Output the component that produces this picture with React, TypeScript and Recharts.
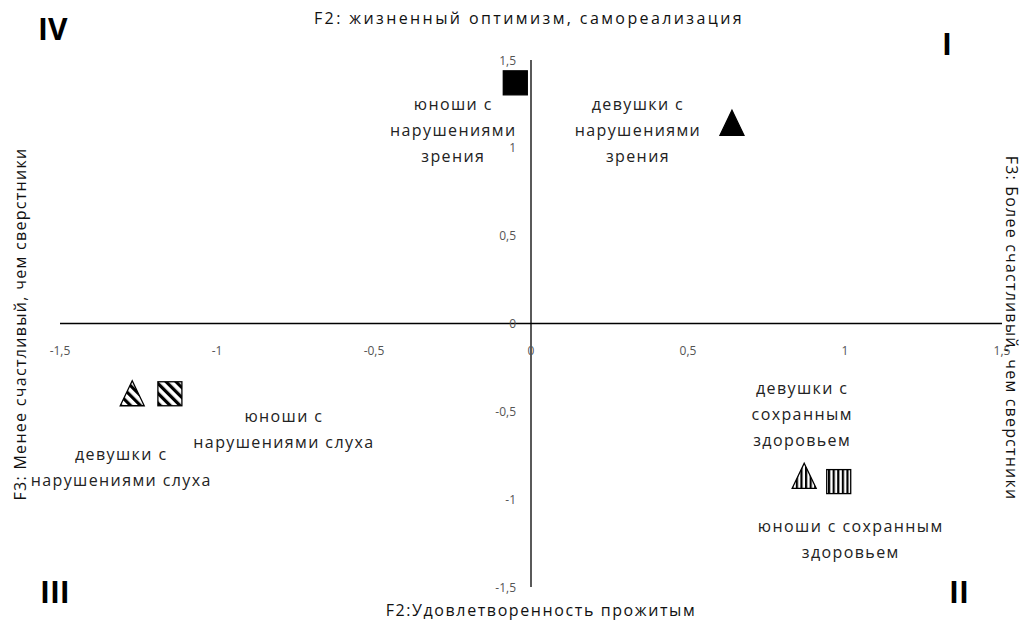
import React from "react";
import {
  ScatterChart,
  Scatter,
  XAxis,
  YAxis,
  ReferenceLine,
  Customized,
} from "recharts";

// groups, in the order they are drawn
const groupNames = [
  "юноши с нарушениями зрения",
  "девушки с нарушениями зрения",
  "девушки с нарушениями слуха",
  "юноши с нарушениями слуха",
  "девушки с сохранным здоровьем",
  "юноши с сохранным здоровьем",
];
const xValues = [-0.05, 0.64, -1.27, -1.15, 0.87, 0.98];
const yValues = [1.37, 1.14, -0.4, -0.4, -0.87, -0.9];
const labelLines = [
  ["юноши с", "нарушениями", "зрения"],
  ["девушки с", "нарушениями", "зрения"],
  ["девушки с", "нарушениями слуха"],
  ["юноши с", "нарушениями слуха"],
  ["девушки с", "сохранным", "здоровьем"],
  ["юноши с сохранным", "здоровьем"],
];

const tickValues = [-1.5, -1, -0.5, 0, 0.5, 1, 1.5];

const topTitle = "F2: жизненный оптимизм, самореализация";
const bottomTitle = "F2:Удовлетворенность прожитым";
const leftTitle = "F3: Менее счастливый, чем сверстники";
const rightTitle = "F3: Более счастливый, чем сверстники";
const quadrantNames = ["IV", "I", "III", "II"];

// marker look + label offset per group (pixels relative to the point)
const markerKinds = ["square", "triangle", "triDiag", "sqDiag", "triVert", "sqVert"];
const labelOffsets = [
  [-62, 21],
  [-94, -19],
  [-11, 60],
  [114, 22],
  [-2, -88],
  [12, 44],
];

const FONT = "'Open Sans', sans-serif";
const LINE_H = 26;

const points = groupNames.map((name, i) => ({
  name,
  x: xValues[i],
  y: yValues[i],
  kind: markerKinds[i],
  lines: labelLines[i],
  off: labelOffsets[i],
}));

const xTicks = tickValues.map((t) => ({ x: t, y: 0, label: String(t).replace(".", ",") }));
const yTicks = tickValues.map((t) => ({ x: 0, y: t, label: String(t).replace(".", ",") }));

const fmtFill = (kind: string) => {
  if (kind === "square" || kind === "triangle") return "#000";
  if (kind === "triDiag" || kind === "sqDiag") return "url(#diag)";
  return "url(#vert)";
};

const Marker = (props: any) => {
  const { cx, cy, payload } = props;
  const kind = payload.kind;
  const fill = fmtFill(kind);
  const tri = kind.startsWith("tri");
  const [dx, dy] = payload.off;
  return (
    <g>
      {tri ? (
        <polygon
          points={`${cx},${cy - 13} ${cx - 12},${cy + 12} ${cx + 12},${cy + 12}`}
          fill={fill}
          stroke="#000"
          strokeWidth={1.3}
        />
      ) : (
        <rect
          x={cx - 12}
          y={cy - 12}
          width={24}
          height={24}
          fill={fill}
          stroke="#000"
          strokeWidth={1.3}
        />
      )}
      <text
        x={cx + dx}
        y={cy + dy}
        textAnchor="middle"
        dominantBaseline="central"
        fontFamily={FONT}
        fontSize={16}
        letterSpacing={1.4}
        fill="#222"
      >
        {payload.lines.map((l: string, k: number) => (
          <tspan key={k} x={cx + dx} dy={k === 0 ? 0 : LINE_H}>
            {l}
          </tspan>
        ))}
      </text>
    </g>
  );
};

const XTickMark = (props: any) => (
  <text
    x={props.cx}
    y={props.cy + 27}
    textAnchor="middle"
    dominantBaseline="central"
    fontFamily={FONT}
    fontSize={12}
    fill="#555"
  >
    {props.payload.label}
  </text>
);

const YTickMark = (props: any) => (
  <text
    x={props.cx - 15}
    y={props.cy}
    textAnchor="end"
    dominantBaseline="central"
    fontFamily={FONT}
    fontSize={12}
    fill="#555"
  >
    {props.payload.label}
  </text>
);

const Extras = () => (
  <g fontFamily={FONT}>
    <defs>
      <pattern id="diag" width="7" height="7" patternUnits="userSpaceOnUse" patternTransform="rotate(-45)">
        <rect width="7" height="7" fill="#fff" />
        <rect width="3.2" height="7" fill="#000" />
      </pattern>
      <pattern id="vert" width="4.6" height="4.6" patternUnits="userSpaceOnUse">
        <rect width="4.6" height="4.6" fill="#fff" />
        <rect width="2.2" height="4.6" fill="#000" />
      </pattern>
    </defs>
    <text x={529} y={18} textAnchor="middle" dominantBaseline="central" fontSize={16} letterSpacing={2.4} fill="#111">
      {topTitle}
    </text>
    <text x={541} y={610} textAnchor="middle" dominantBaseline="central" fontSize={16} letterSpacing={1.6} fill="#111">
      {bottomTitle}
    </text>
    <text
      x={20}
      y={324}
      textAnchor="middle"
      dominantBaseline="central"
      fontSize={16}
      letterSpacing={1.3}
      fill="#111"
      transform="rotate(-90 20 324)"
    >
      {leftTitle}
    </text>
    <text
      x={1012}
      y={328}
      textAnchor="middle"
      dominantBaseline="central"
      fontSize={16}
      letterSpacing={1.2}
      fill="#111"
      transform="rotate(90 1012 328)"
    >
      {rightTitle}
    </text>
    <text x={38} y={40} fontSize={30} fontWeight="bold" fill="#000">{quadrantNames[0]}</text>
    <text x={942} y={55} fontSize={30} fontWeight="bold" fill="#000">{quadrantNames[1]}</text>
    <text x={40} y={603} fontSize={30} fontWeight="bold" fill="#000">{quadrantNames[2]}</text>
    <text x={949} y={603} fontSize={30} fontWeight="bold" fill="#000">{quadrantNames[3]}</text>
  </g>
);

export default function App() {
  return (
    <div style={{ position: "absolute", left: 0, top: 0, width: 1024, height: 620, background: "#fff" }}>
      <ScatterChart width={1024} height={620} margin={{ top: 60, right: 22, bottom: 33, left: 60 }}>
        <XAxis type="number" dataKey="x" domain={[-1.5, 1.5]} hide />
        <YAxis type="number" dataKey="y" domain={[-1.5, 1.5]} hide />
        <Customized component={Extras} />
        <ReferenceLine x={0} stroke="#000" strokeWidth={1.3} />
        <ReferenceLine y={0} stroke="#000" strokeWidth={1.3} />
        <Scatter data={xTicks} shape={<XTickMark />} isAnimationActive={false} />
        <Scatter data={yTicks} shape={<YTickMark />} isAnimationActive={false} />
        <Scatter data={points} shape={<Marker />} isAnimationActive={false} />
      </ScatterChart>
    </div>
  );
}
